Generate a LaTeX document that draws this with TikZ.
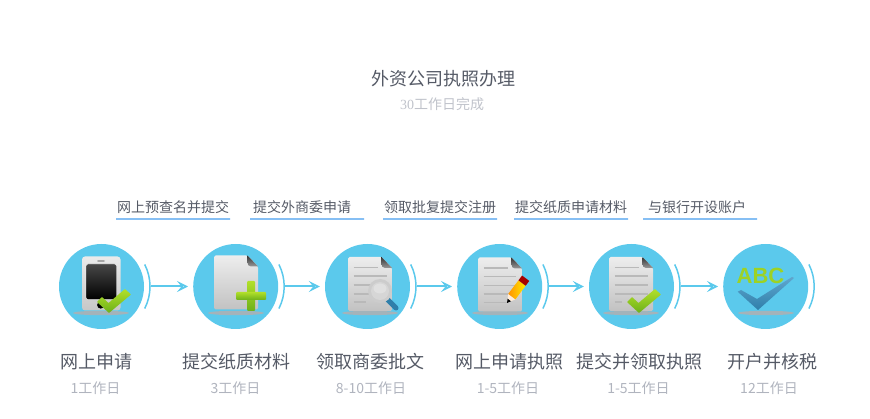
\documentclass[tikz,border=0pt]{standalone}
\usepackage{fontspec}
\setmainfont{Noto Sans CJK SC}
\newfontfamily\numfont{Liberation Serif}
\newfontfamily\abcfont{Liberation Sans}
\usetikzlibrary{arrows.meta}
\definecolor{skyfill}{HTML}{5BC9EC}
\definecolor{inktext}{HTML}{555A66}
\definecolor{softtext}{HTML}{B0B4BE}
\definecolor{rulea}{HTML}{86BFF4}
\definecolor{ruleb}{HTML}{CFE6FB}
\definecolor{shadowc}{HTML}{A3B3BA}
\definecolor{leafa}{HTML}{B2E02A}
\definecolor{leafb}{HTML}{6DB01A}
\definecolor{steela}{HTML}{5FA6CE}
\definecolor{steelb}{HTML}{2F7FAA}
% paper sheet, top left corner at (#1,#2)
\newcommand{\papericon}[2]{%
  \begin{scope}[shift={(#1,#2)}]
    \shade[top color=white!93!black, bottom color=white!76!black, rounded corners=1.5pt]
      (0,0) -- (33.5,0) -- (44,11) -- (44,54) -- (0,54) -- cycle;
    \shade[top color=black!80, bottom color=black!40]
      (33.5,0) -- (44,11) -- (37,11) .. controls (34.5,11) and (33.5,9) .. (33.5,7) -- cycle;
  \end{scope}}
\newcommand{\paperlines}[3]{%
  \begin{scope}[shift={(#1,#2)}]
    \foreach \ly/\lw in {#3}
      \draw[gray!55, line width=1.5pt] (5.5,\ly) -- (\lw,\ly);
  \end{scope}}
% green tick, top left corner at (#1,#2)
\newcommand{\tickicon}[2]{%
  \begin{scope}[shift={(#1,#2)}]
    \shade[top color=leafa, bottom color=leafb, rounded corners=0.6pt]
      (0,13) -- (5,8) -- (11.5,14) -- (28,0) -- (34,5.5) -- (12,24) -- cycle;
  \end{scope}}
\begin{document}
\begin{tikzpicture}[x=1pt, y=-1pt, font=\fontsize{14}{16}\selectfont,
    disc/.style={circle, fill=skyfill, minimum size=85pt, inner sep=0pt},
    flow/.style={draw=skyfill, line width=2pt, shorten <=6.5pt, shorten >=5pt,
                 -{Stealth[length=11pt, width=11pt, inset=4.5pt, line width=1.5pt, fill=white]}},
    halo/.style={draw=skyfill, line width=1.5pt},
    ground/.style={fill=shadowc},
    title/.style={text=inktext, font=\fontsize{18}{20}\selectfont},
    note/.style={text=softtext, font=\fontsize{14}{16}\selectfont},
    steplbl/.style={text=inktext, font=\fontsize{14}{16}\selectfont},
    rulefill/.style={left color=rulea, middle color=ruleb, right color=rulea}]

    \useasboundingbox (0,0) rectangle (870,419);

    \node[title] (head) at (443,79) {外资公司执照办理};
    \node[note, text=softtext!80] (headsub) at (442,104) {{\numfont 30}工作日完成};

    % labels over the rules
    \node[steplbl] (lbla) at (173,207) {网上预查名并提交};
    \node[steplbl] (lblb) at (302,207) {提交外商委申请};
    \node[steplbl] (lblc) at (440,207) {领取批复提交注册};
    \node[steplbl] (lbld) at (571,207) {提交纸质申请材料};
    \node[steplbl] (lble) at (697,207) {与银行开设账户};
    \foreach \rx in {116,250,383,514,643}
      \shade[rulefill] (\rx,218.5) rectangle ++(114,1);

    % discs
    \node[disc] (phone) at (101.5,286.5) {};
    \node[disc] (paper) at (235.7,286.5) {};
    \node[disc] (seal)  at (367.5,286.5) {};
    \node[disc] (form)  at (499.7,286.5) {};
    \node[disc] (pass)  at (631.5,286.5) {};
    \node[disc] (bank)  at (765.7,286.5) {};

    \foreach \d in {phone,paper,seal,form,pass,bank}
      \draw[halo] ([shift={(-27:48.5)}]\d.center) arc (-27:27:48.5);

    \draw[flow] (phone) -- (paper);
    \draw[flow] (paper) -- (seal);
    \draw[flow] (seal) -- (form);
    \draw[flow] (form) -- (pass);
    \draw[flow] (pass) -- (bank);

    \foreach \sx in {101,236,370,500,631,766}
      \fill[ground] (\sx,313) ellipse [x radius=28, y radius=2.2];

    % phone
    \shade[top color=white!92!black, bottom color=white!78!black, rounded corners=3pt]
      (82,256.5) rectangle (120.5,310.5);
    \fill[white!30!gray, rounded corners=1pt] (97,260.2) rectangle (105,261.8);
    \shade[top color=black!72, bottom color=black, rounded corners=2pt, draw=white]
      (86,264) rectangle (116.5,299.5);
    \fill[black] (100.7,305) circle (3.6);
    \tickicon{97}{289}

    % sheet with plus
    \papericon{214}{255.5}
    \shade[top color=leafa, bottom color=leafb, rounded corners=1pt]
      (247,281) rectangle (255,311);
    \shade[top color=leafa, bottom color=leafb, rounded corners=1pt]
      (236,292) rectangle (266,300);

    % sheet with lens
    \papericon{348}{257}
    \paperlines{348}{257}{10.5/30, 19/39, 28/30, 37/24, 45/18}
    \draw[steelb, line width=5pt, line cap=round] (387,299) -- (396,308);
    \fill[white!80!black] (380,291) circle (12);
    \fill[white!68!gray] (380,291) circle (9);
    \fill[white!88!black] (380,288.5) ellipse [x radius=6.5, y radius=5];

    % sheet with pencil
    \papericon{478}{257.5}
    \paperlines{478}{257.5}{10.5/30, 19/38, 28/38, 36.5/30, 45/30}
    \begin{scope}[shift={(507,303)}, rotate=53]
      \fill[black] (0,0) -- (4,-2.2) -- (4,2.2) -- cycle;
      \fill[white!85!orange] (4,-2.2) -- (8,-4.5) -- (8,4.5) -- (4,2.2) -- cycle;
      \shade[left color=orange!85!yellow, right color=yellow!85!orange] (8,-4.5) rectangle (25,4.5);
      \fill[red!65!black] (25,-4.5) rectangle (31,4.5);
    \end{scope}

    % sheet with tick
    \papericon{609}{257}
    \paperlines{609}{257}{10.5/30, 19/39, 28/39, 37/39, 45/13}
    \tickicon{627}{289}

    % letters with big tick
    \node[text=leafa!70!leafb, font=\abcfont\bfseries\fontsize{22}{22}\selectfont, inner sep=0pt]
      (abc) at (760.5,276) {ABC};
    \shade[top color=steela, bottom color=steelb]
      (737.7,291.7) -- (741,290) -- (757,299) -- (792,277) -- (794,278) -- (758,310) -- cycle;

    % captions
    \node[title] (capa) at (96,362) {网上申请};
    \node[title] (capb) at (236.5,362) {提交纸质材料};
    \node[title] (capc) at (370.5,362) {领取商委批文};
    \node[title] (capd) at (509,362) {网上申请执照};
    \node[title] (cape) at (639,362) {提交并领取执照};
    \node[title] (capf) at (772,362) {开户并核税};

    \node[note] (daya) at (95.5,388) {1工作日};
    \node[note] (dayb) at (235.5,388) {3工作日};
    \node[note] (dayc) at (371,388) {8-10工作日};
    \node[note] (dayd) at (508,388) {1-5工作日};
    \node[note] (daye) at (638.5,388) {1-5工作日};
    \node[note] (dayf) at (769,388) {12工作日};
\end{tikzpicture}
\end{document}
